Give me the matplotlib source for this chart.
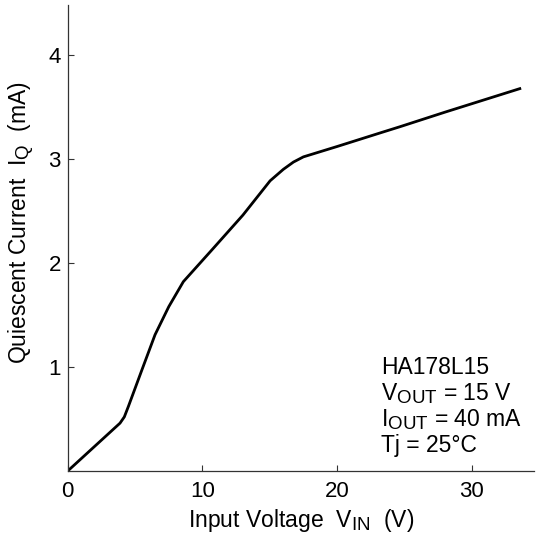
import matplotlib.pyplot as plt
import matplotlib._mathtext as mathtext

plt.rcParams["font.family"] = ["Liberation Sans", "DejaVu Sans"]
plt.rcParams["mathtext.fontset"] = "custom"
plt.rcParams["mathtext.rm"] = "Liberation Sans"
plt.rcParams["mathtext.it"] = "Liberation Sans"
# subscripts in the original are only a bit smaller than the text
mathtext.SHRINK_FACTOR = 0.82

# Quiescent current vs input voltage
vin = [0.0, 3.88, 4.2, 4.5, 5.5, 6.48, 7.5, 8.58, 10.73, 13.0, 15.02, 16.0, 16.75,
       17.49, 20.0, 23.18, 24.66, 28.0, 33.65]
iq = [0.0, 0.46, 0.52, 0.62, 0.97, 1.31, 1.58, 1.82, 2.13, 2.46, 2.79, 2.90, 2.97,
      3.02, 3.12, 3.25, 3.31, 3.45, 3.68]

x_ticks = [0, 10, 20, 30]
y_ticks = [1, 2, 3, 4]

fig = plt.figure(figsize=(5.44, 5.45), dpi=100)
ax = fig.add_axes([0.1245, 0.1358, 0.857, 0.855])

ax.plot(vin, iq, color="black", linewidth=2.0, solid_capstyle="butt")

ax.set_xlim(0, 34.6)
ax.set_ylim(0, 4.48)
ax.set_xticks(x_ticks)
ax.set_yticks(y_ticks)

for side in ["top", "right"]:
    ax.spines[side].set_visible(False)
for side in ["left", "bottom"]:
    ax.spines[side].set_color("#333333")
    ax.spines[side].set_linewidth(0.9)

ax.tick_params(direction="in", length=4, width=0.8, color="#333333",
               labelsize=16, pad=7)
ax.tick_params(axis="y", pad=5)

ax.set_xlabel(r"Input Voltage  $\mathrm{V_{IN}}$  (V)", fontsize=16.5)
ax.set_ylabel(r"Quiescent Current  $\mathrm{I_Q}$  (mA)", fontsize=16.5)
ax.xaxis.set_label_coords(0.5, -0.078)
ax.yaxis.set_label_coords(-0.068, 0.533)

note = ("HA178L15\n"
        r"$\mathrm{V_{OUT}}$ = 15 V" "\n"
        r"$\mathrm{I_{OUT}}$ = 40 mA" "\n"
        "Tj = 25°C")
ax.text(0.672, 0.247, note, transform=ax.transAxes, fontsize=16.5,
        ha="left", va="top", linespacing=1.1)

fig.savefig("out.png", dpi=100)
plt.close()
